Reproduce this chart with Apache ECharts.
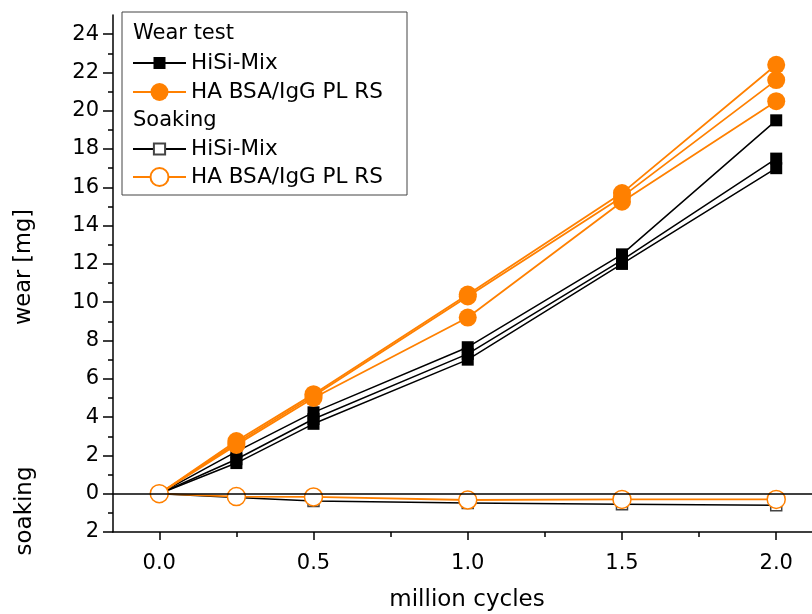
<!DOCTYPE html>
<html>
<head>
<meta charset="utf-8">
<script src="https://cdn.jsdelivr.net/npm/echarts@6/dist/echarts.min.js"></script>
<style>
html,body{margin:0;padding:0;background:#fff;}
#chart{width:812px;height:614px;}
</style>
</head>
<body>
<div id="chart"></div>
<script>
// ---- data (million cycles vs wear [mg]; soaking plotted downward) ----
const cycles = [0, 0.25, 0.5, 1.0, 1.5, 2.0];
const hisiWear1 = [0, 2.2, 4.25, 7.65, 12.5, 19.5];
const hisiWear2 = [0, 1.8, 3.9, 7.3, 12.2, 17.5];
const hisiWear3 = [0, 1.6, 3.65, 7.0, 12.0, 17.0];
const haWear1 = [0, 2.75, 5.2, 10.4, 15.7, 22.4];
const haWear2 = [0, 2.65, 5.1, 10.3, 15.5, 21.6];
const haWear3 = [0, 2.55, 5.0, 9.2, 15.25, 20.5];
const hisiSoak = [0, -0.2, -0.38, -0.48, -0.55, -0.6];
const haSoak = [0, -0.15, -0.17, -0.33, -0.3, -0.3];
const xTicks = [0, 0.5, 1.0, 1.5, 2.0];
const xMinorTicks = [0.25, 0.75, 1.25, 1.75];
const yTicks = [-2, 0, 2, 4, 6, 8, 10, 12, 14, 16, 18, 20, 22, 24];
const yMinorTicks = [-1, 1, 3, 5, 7, 9, 11, 13, 15, 17, 19, 21, 23];
const nameHiSi = 'HiSi-Mix';
const nameHA = 'HA BSA/IgG PL RS';
const nameHiSiSoak = 'HiSi-Mix (soaking)';
const nameHASoak = 'HA BSA/IgG PL RS (soaking)';

const FONT = '"DejaVu Sans", Verdana, sans-serif';
const ORANGE = '#ff8000';
const pairs = ys => cycles.map((c, i) => [c, ys[i]]);

function wearSeries(name, ys, color, symbol, size) {
  return {
    type: 'line', name, data: pairs(ys), xAxisIndex: 0, yAxisIndex: 0,
    symbol, symbolSize: size, showAllSymbol: true,
    lineStyle: { color, width: color === ORANGE ? 1.8 : 1.5 },
    itemStyle: { color, borderWidth: 0, opacity: 1 },
    emphasis: { disabled: true }, silent: true
  };
}
function soakSeries(name, ys, borderColor, symbol, size) {
  return {
    type: 'line', name, data: pairs(ys), xAxisIndex: 0, yAxisIndex: 0,
    symbol, symbolSize: size, showAllSymbol: true,
    lineStyle: { color: borderColor === ORANGE ? ORANGE : '#000', width: borderColor === ORANGE ? 1.8 : 1.5 },
    itemStyle: { color: '#fff', borderColor, borderWidth: 1.5, opacity: 1 },
    emphasis: { disabled: true }, silent: true
  };
}

const series = [
  wearSeries(nameHiSi, hisiWear1, '#000', 'rect', 12),
  wearSeries(nameHiSi, hisiWear2, '#000', 'rect', 12),
  wearSeries(nameHiSi, hisiWear3, '#000', 'rect', 12),
  wearSeries(nameHA, haWear1, ORANGE, 'circle', 18),
  wearSeries(nameHA, haWear2, ORANGE, 'circle', 18),
  wearSeries(nameHA, haWear3, ORANGE, 'circle', 18),
  soakSeries(nameHiSiSoak, hisiSoak, '#444', 'rect', 11),
  soakSeries(nameHASoak, haSoak, ORANGE, 'circle', 18)
];
series[0].markLine = {
  silent: true, symbol: 'none', label: { show: false },
  lineStyle: { color: '#000', width: 1.5, type: 'solid' },
  data: [{ yAxis: 0 }]
};

function legendFor(name, top, itemHeight) {
  return {
    show: true, data: [name], left: 132, top, orient: 'vertical',
    padding: 0, itemWidth: 53, itemHeight, selectedMode: false,
    formatter: n => n.replace(' (soaking)', ''),
    textStyle: { fontFamily: FONT, fontSize: 21.5, color: '#000' },
    inactiveColor: '#000'
  };
}

const chart = echarts.init(document.getElementById('chart'), null, { renderer: 'canvas' });
chart.setOption({
  animation: false,
  backgroundColor: '#fff',
  grid: { left: 113, right: 0, top: 15, bottom: 82, containLabel: false },
  xAxis: [
    {
      type: 'value', min: -0.15, max: 2.116, position: 'bottom',
      axisLine: { show: true, onZero: false, lineStyle: { color: '#000', width: 1.5 } },
      axisTick: { show: true, inside: false, length: 8, customValues: xTicks, lineStyle: { color: '#000', width: 1.5 } },
      axisLabel: { show: true, customValues: xTicks, margin: 21, formatter: v => Number(v).toFixed(1),
        fontFamily: FONT, fontSize: 21, color: '#000' },
      splitLine: { show: false }
    },
    {
      type: 'value', min: -0.15, max: 2.116, position: 'bottom',
      axisLine: { show: false, onZero: false },
      axisTick: { show: true, inside: false, length: 5, customValues: xMinorTicks, lineStyle: { color: '#000', width: 1.5 } },
      axisLabel: { show: false },
      splitLine: { show: false }
    }
  ],
  yAxis: [
    {
      type: 'value', min: -2, max: 25, position: 'left',
      axisLine: { show: true, onZero: false, lineStyle: { color: '#000', width: 1.5 } },
      axisTick: { show: true, inside: false, length: 10, customValues: yTicks, lineStyle: { color: '#000', width: 1.5 } },
      axisLabel: { show: true, customValues: yTicks, margin: 14, formatter: v => String(Math.abs(v)),
        fontFamily: FONT, fontSize: 21, color: '#000' },
      splitLine: { show: false }
    },
    {
      type: 'value', min: -2, max: 25, position: 'left',
      axisLine: { show: false, onZero: false },
      axisTick: { show: true, inside: false, length: 5, customValues: yMinorTicks, lineStyle: { color: '#000', width: 1.5 } },
      axisLabel: { show: false },
      splitLine: { show: false }
    }
  ],
  legend: [
    legendFor(nameHiSi, 52, 15),
    legendFor(nameHA, 81, 22.5),
    legendFor(nameHiSiSoak, 138, 14),
    legendFor(nameHASoak, 166, 22.5)
  ],
  graphic: [
    { type: 'rect', z: 0, shape: { x: 122, y: 12, width: 285, height: 183 },
      style: { fill: '#fff', stroke: '#444', lineWidth: 1 } },
    { type: 'text', z: 5, x: 133, y: 34, style: { text: 'Wear test', font: '21px ' + FONT, fill: '#000', textVerticalAlign: 'middle' } },
    { type: 'text', z: 5, x: 133, y: 121, style: { text: 'Soaking', font: '21px ' + FONT, fill: '#000', textVerticalAlign: 'middle' } },
    { type: 'text', z: 5, x: 24, y: 267, rotation: Math.PI / 2,
      style: { text: 'wear [mg]', font: '22.5px ' + FONT, fill: '#000', textAlign: 'center', textVerticalAlign: 'middle' } },
    { type: 'text', z: 5, x: 25, y: 511, rotation: Math.PI / 2,
      style: { text: 'soaking', font: '23px ' + FONT, fill: '#000', textAlign: 'center', textVerticalAlign: 'middle' } },
    { type: 'text', z: 5, x: 467, y: 600,
      style: { text: 'million cycles', font: '23px ' + FONT, fill: '#000', textAlign: 'center', textVerticalAlign: 'middle' } }
  ],
  series
});
</script>
</body>
</html>
